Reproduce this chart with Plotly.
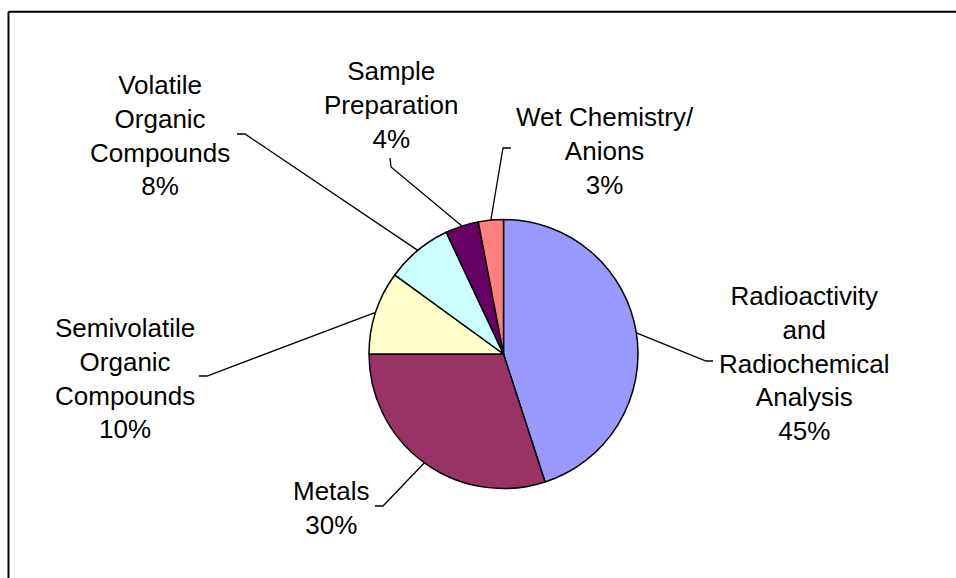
import math
import plotly.graph_objects as go

# ---- data ----
categories = [
    "Radioactivity<br>and<br>Radiochemical<br>Analysis",
    "Metals",
    "Semivolatile<br>Organic<br>Compounds",
    "Volatile<br>Organic<br>Compounds",
    "Sample<br>Preparation",
    "Wet Chemistry/<br>Anions",
]
percent_values = [45, 30, 10, 8, 4, 3]
slice_colors = ["#9999FF", "#993366", "#FFFFCC", "#CCFFFF", "#660066", "#FF8080"]

# ---- layout (pixel positions) ----
W, H = 956, 578
CX, CY, R = 503.5, 354.0, 134.5
# label block centres and the elbow / end of each leader line
label_pos = [(804, 363), (331, 508), (125, 378), (160, 135), (391, 105), (605, 151)]
elbows = [[(706, 361), (713, 361)],
          [(383, 506), (375, 506)],
          [(207, 376), (199, 376)],
          [(245, 134), (237, 134)],
          [(391, 167), (390, 158)],
          [(503, 148), (511, 148)]]
FONT = "Liberation Sans, Arial, sans-serif"
FS = 26

fig = go.Figure()
fig.add_trace(go.Pie(
    labels=[c.replace("<br>", " ") for c in categories],
    values=percent_values,
    sort=False, direction="clockwise", rotation=0,
    marker=dict(colors=slice_colors, line=dict(color="black", width=1.5)),
    textinfo="none", hoverinfo="skip", showlegend=False,
    domain=dict(x=[(CX - R) / W, (CX + R) / W], y=[1 - (CY + R) / H, 1 - (CY - R) / H]),
))

total = sum(percent_values)
cum = 0
for i, v in enumerate(percent_values):
    mid = (cum + v / 2) / total * 2 * math.pi
    cum += v
    px = CX + R * math.sin(mid)
    py = CY - R * math.cos(mid)
    xs = [px] + [p[0] for p in elbows[i]]
    ys = [py] + [p[1] for p in elbows[i]]
    fig.add_trace(go.Scatter(x=xs, y=ys, mode="lines", line=dict(color="black", width=1.3),
                             hoverinfo="skip", showlegend=False))
    lx, ly = label_pos[i]
    fig.add_annotation(x=lx, y=ly, xref="x", yref="y", text=f"{categories[i]}<br>{v}%",
                       showarrow=False, xanchor="center", yanchor="middle", align="center",
                       font=dict(family=FONT, size=FS, color="black"))

# chart-area frame: only its top and left edges fall inside the picture
fig.add_shape(type="line", xref="paper", yref="paper",
              x0=8.5 / W, x1=1, y0=1 - 11.7 / H, y1=1 - 11.7 / H,
              line=dict(color="black", width=2), layer="above")
fig.add_shape(type="line", xref="paper", yref="paper",
              x0=8.5 / W, x1=8.5 / W, y0=0, y1=1 - 11.7 / H,
              line=dict(color="black", width=2), layer="above")

fig.update_layout(
    width=W, height=H, margin=dict(l=0, r=0, t=0, b=0),
    paper_bgcolor="white", plot_bgcolor="white",
    xaxis=dict(range=[0, W], visible=False, domain=[0, 1], fixedrange=True),
    yaxis=dict(range=[H, 0], visible=False, domain=[0, 1], fixedrange=True),
    showlegend=False,
)
fig.write_html("out.html")
